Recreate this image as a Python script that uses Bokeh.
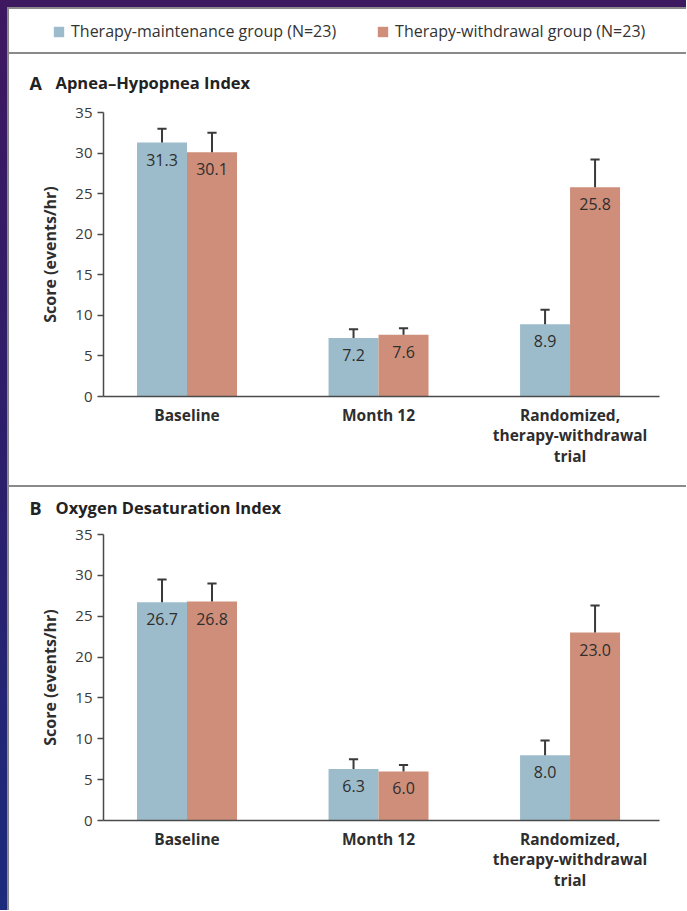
from bokeh.plotting import figure
from bokeh.models import (ColumnDataSource, Range1d, Label, Legend,
                          LegendItem, FixedTicker, Div)
from bokeh.transform import dodge
from bokeh.layouts import column, row
from bokeh.core.properties import value
from bokeh.embed import file_html
from bokeh.resources import INLINE

# ---------------- data ----------------
categories = ["Baseline", "Month 12", "Randomized,\ntherapy-withdrawal\ntrial"]
series_names = ["Therapy-maintenance group (N=23)", "Therapy-withdrawal group (N=23)"]

ahi_maintenance = [31.3, 7.2, 8.9]
ahi_withdrawal = [30.1, 7.6, 25.8]
ahi_maintenance_se = [1.7, 1.1, 1.8]
ahi_withdrawal_se = [2.4, 0.8, 3.4]

odi_maintenance = [26.7, 6.3, 8.0]
odi_withdrawal = [26.8, 6.0, 23.0]
odi_maintenance_se = [2.8, 1.2, 1.8]
odi_withdrawal_se = [2.2, 0.8, 3.3]

y_ticks = [0, 5, 10, 15, 20, 25, 30, 35]

# ---------------- style ----------------
FONT = "Open Sans"
BLUE = "#9dbccb"
ORANGE = "#cf8e7a"
AXIS = "#4a4a4a"
TEXT = "#2e2e2e"
RULE = "#8a8a8a"
W = 677
BL, BR = 94, 27          # frame borders (left / right)
BAR_W = 0.261
OFF = 0.1305
CAP = 0.024
positions = list(range(len(categories)))


def strip(height):
    s = figure(width=W, height=height, x_range=Range1d(0, 1), y_range=Range1d(0, 1),
               output_backend="svg", toolbar_location=None, frame_align=False,
               min_border=0, x_axis_location=None, y_axis_location=None)
    s.outline_line_color = None
    s.grid.visible = False
    return s


def title_strip(letter, title, height, y):
    s = strip(height)
    s.add_layout(Label(x=20, y=y, x_units="screen", y_units="screen", text=letter,
                       text_font=FONT, text_font_style="bold",
                       text_font_size="18px", text_baseline="middle", text_color="#222222"))
    s.add_layout(Label(x=46, y=y, x_units="screen", y_units="screen", text=title,
                       text_font=FONT, text_font_style="bold",
                       text_font_size="16.5px", text_baseline="middle", text_color="#222222"))
    return s


def panel(main, withd, main_se, withd_se, height, top, bottom):
    p = figure(width=W, height=height, x_range=Range1d(-0.436, 2.467),
               y_range=Range1d(0, 35), output_backend="svg", toolbar_location=None,
               min_border_left=BL, min_border_right=BR,
               min_border_top=top, min_border_bottom=bottom)
    p.outline_line_color = None
    p.grid.grid_line_color = None

    for vals, se, off, color in ((main, main_se, -OFF, BLUE),
                                 (withd, withd_se, OFF, ORANGE)):
        src = ColumnDataSource(dict(
            pos=positions, val=vals,
            up=[v + s for v, s in zip(vals, se)],
            lab=[f"{v:.1f}" for v in vals]))
        p.vbar(x=dodge("pos", off), top="val", width=BAR_W,
               source=src, fill_color=color, line_color=None)
        p.segment(x0=dodge("pos", off), x1=dodge("pos", off),
                  y0="val", y1="up", source=src, line_color="#3a3a3a", line_width=2)
        p.segment(x0=dodge("pos", off - CAP), x1=dodge("pos", off + CAP),
                  y0="up", y1="up", source=src, line_color="#3a3a3a", line_width=2)
        p.text(x=dodge("pos", off), y="val", text="lab", source=src,
               y_offset=17, text_align="center", text_baseline="middle",
               text_font=value(FONT), text_font_size="16px", text_color=TEXT)

    xa = p.xaxis[0]
    xa.ticker = FixedTicker(ticks=positions)
    xa.major_label_overrides = {i: c for i, c in zip(positions, categories)}
    xa.major_tick_line_color = None
    xa.minor_tick_line_color = None
    xa.axis_line_color = AXIS
    xa.axis_line_width = 1.5
    xa.major_label_text_font = FONT
    xa.major_label_text_font_style = "bold"
    xa.major_label_text_font_size = "15.5px"
    xa.major_label_text_color = TEXT
    xa.major_label_text_line_height = 0.95
    xa.major_label_standoff = 1

    ya = p.yaxis[0]
    ya.ticker = FixedTicker(ticks=y_ticks)
    ya.major_tick_out = 6
    ya.major_tick_in = 0
    ya.major_tick_line_color = AXIS
    ya.major_tick_line_width = 1.5
    ya.minor_tick_line_color = None
    ya.axis_line_color = AXIS
    ya.axis_line_width = 1.5
    ya.major_label_text_font = FONT
    ya.major_label_text_font_size = "15px"
    ya.major_label_text_color = "#3a3a3a"
    ya.major_label_standoff = 5
    ya.axis_label = "Score (events/hr)"
    ya.axis_label_text_font = FONT
    ya.axis_label_text_font_style = "bold"
    ya.axis_label_text_font_size = "16px"
    ya.axis_label_text_color = TEXT
    ya.axis_label_standoff = 11
    return p


# ---------------- legend strip ----------------
leg = strip(43)
legend_src = ColumnDataSource(dict(x=[0.5], top=[0]))
r_main = leg.vbar(x="x", top="top", bottom=0, width=0.01, source=legend_src,
                  fill_color=BLUE, line_color=None)
r_withd = leg.vbar(x="x", top="top", bottom=0, width=0.01, source=legend_src,
                   fill_color=ORANGE, line_color=None)
legend = Legend(items=[LegendItem(label=series_names[0], renderers=[r_main]),
                       LegendItem(label=series_names[1], renderers=[r_withd])],
                location=(43, 10), orientation="horizontal",
                glyph_width=13, glyph_height=13, label_height=13, label_standoff=6,
                spacing=40, padding=0, margin=0, border_line_color=None,
                background_fill_alpha=0, label_text_font=FONT,
                label_text_font_size="16px", label_text_color="#333333")
leg.add_layout(legend)

ta = title_strip("A", "Apnea\u2013Hypopnea Index", 44, 16)
pa = panel(ahi_maintenance, ahi_withdrawal, ahi_maintenance_se, ahi_withdrawal_se,
           387, 14, 89)
tb = title_strip("B", "Oxygen Desaturation Index", 34, 14)
pb = panel(odi_maintenance, odi_withdrawal, odi_maintenance_se, odi_withdrawal_se,
           389, 13, 90)


def block(w, h, bg):
    return Div(text="", width=w, height=h, margin=0, styles={"background": bg})


body = column(block(W, 2, RULE), leg, block(W, 2, RULE), ta, pa, block(W, 2, RULE), tb, pb,
              spacing=0)
inner = row(block(2, 903, RULE), body, spacing=0)
right = column(block(W + 2, 7, "#3d1a5f"), inner, spacing=0)
layout = row(block(7, 910, "linear-gradient(to bottom, #3e1860, #2b1f6c 55%, #1c2b7c)"),
             right, spacing=0)

open("out.html", "w").write(file_html(layout, INLINE))
